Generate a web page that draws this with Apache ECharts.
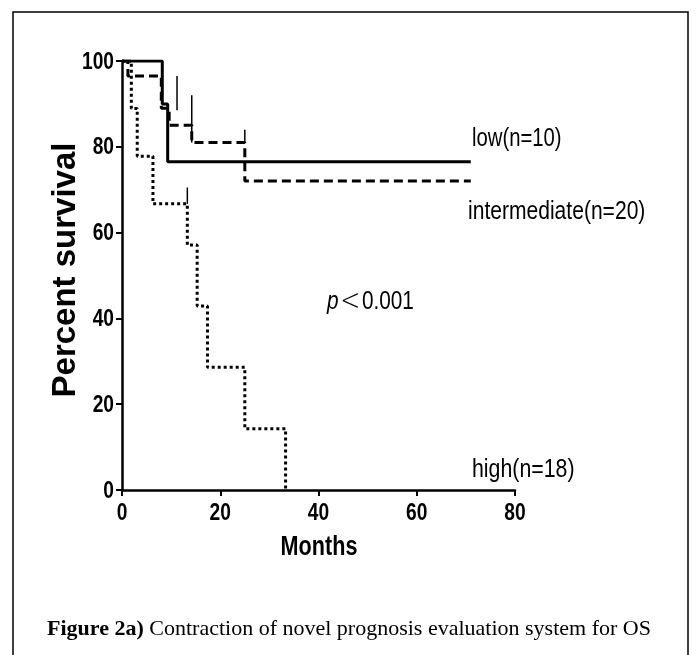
<!DOCTYPE html>
<html>
<head>
<meta charset="utf-8">
<script src="https://cdn.jsdelivr.net/npm/echarts@6/dist/echarts.min.js"></script>
<style>
  html, body { margin: 0; padding: 0; background: #fff; }
  #chart { width: 697px; height: 655px; }
</style>
</head>
<body>
<div id="chart"></div>
<script>
  // Kaplan-Meier steps: [months, percent survival]
  var lowSteps = [[0, 100], [8.2, 90], [9.3, 76.5], [71, 76.5]];
  var intermediateSteps = [[0, 100], [1.2, 96.5], [8, 89], [9.6, 85], [14.2, 81], [25, 72], [71, 72]];
  var highSteps = [[0, 100], [1.9, 88.9], [3.1, 77.8], [6.3, 66.7], [13.3, 57.1], [15.3, 42.9], [17.4, 28.6], [25, 14.3], [33.3, 0]];
  // censor ticks: [months, bottom, top]
  var intermediateCensors = [[11.2, 88.5, 96.5], [14.2, 81, 92], [25, 81, 84]];
  var highCensors = [[13.3, 66.7, 70.5]];
  var xTicks = [0, 20, 40, 60, 80];
  var yTicks = [0, 20, 40, 60, 80, 100];

  var sans = '"Liberation Sans", Arial, sans-serif';

  var chart = echarts.init(document.getElementById('chart'));

  function censorSeries(data) {
    return {
      type: 'custom',
      silent: true,
      data: data,
      renderItem: function (params, api) {
        var a = api.coord([api.value(0), api.value(1)]);
        var b = api.coord([api.value(0), api.value(2)]);
        return {
          type: 'line',
          shape: { x1: a[0], y1: a[1], x2: b[0], y2: b[1] },
          style: { stroke: '#000', lineWidth: 1.5 }
        };
      }
    };
  }

  // narrow text drawn by squeezing a normal sans face (no narrow font installed)
  function narrowText(txt, x, y, opts) {
    opts = opts || {};
    return {
      type: 'text', x: x, y: y,
      scaleX: opts.sx || 0.78,
      style: {
        text: txt,
        fontFamily: sans,
        fontWeight: opts.bold ? 'bold' : 'normal',
        fontSize: opts.size || 26,
        fill: '#000',
        align: opts.align || 'left',
        verticalAlign: opts.va || 'middle',
        rich: opts.rich
      }
    };
  }

  var graphics = [
    {
      type: 'rect',
      shape: { x: 13, y: 12, width: 675, height: 680 },
      style: { fill: 'none', stroke: '#000', lineWidth: 1.5 }
    },
    {
      type: 'text',
      x: 66, y: 270,
      rotation: Math.PI / 2,
      style: {
        text: 'Percent survival',
        fontFamily: sans,
        fontWeight: 'bold', fontSize: 33, fill: '#000',
        align: 'center', verticalAlign: 'middle'
      }
    },
    narrowText('Months', 319, 548, { bold: true, size: 27, align: 'center', sx: 0.8 }),
    narrowText('low(n=10)', 472, 139),
    narrowText('intermediate(n=20)', 468, 212, { sx: 0.81 }),
    narrowText('high(n=18)', 472, 470, { sx: 0.82 }),
    narrowText('{p|p}{t|<}{n|0.001}', 327, 302, {
      sx: 0.8,
      rich: {
        p: { fontFamily: sans, fontStyle: 'italic', fontSize: 26, fill: '#000' },
        t: { fontFamily: '"DejaVu Sans", sans-serif', fontWeight: 'lighter', fontSize: 30, fill: '#000', padding: [0, 2, 0, 2] },
        n: { fontFamily: sans, fontSize: 26, fill: '#000' }
      }
    }),
    {
      type: 'text', x: 349, y: 629,
      style: {
        text: '{b|Figure 2a)} Contraction of novel prognosis evaluation system for OS',
        align: 'center', verticalAlign: 'middle',
        fontFamily: '"Liberation Serif", serif', fontSize: 22, fill: '#000',
        rich: {
          b: { fontFamily: '"Liberation Serif", serif', fontWeight: 'bold', fontSize: 22, fill: '#000' }
        }
      }
    }
  ];

  chart.setOption({
    animation: false,
    grid: { left: 122, right: 182, top: 61, bottom: 165 },
    xAxis: {
      type: 'value',
      min: xTicks[0],
      max: xTicks[xTicks.length - 1],
      interval: 20,
      axisLine: { lineStyle: { color: '#000', width: 2.5 } },
      axisTick: { inside: false, length: 6, lineStyle: { color: '#000', width: 2 } },
      axisLabel: { show: false },
      splitLine: { show: false }
    },
    yAxis: {
      type: 'value',
      min: yTicks[0],
      max: yTicks[yTicks.length - 1],
      interval: 20,
      axisLine: { show: true, lineStyle: { color: '#000', width: 2.5 } },
      axisTick: { show: true, inside: false, length: 6, lineStyle: { color: '#000', width: 2 } },
      axisLabel: { show: false },
      splitLine: { show: false }
    },
    series: [
      {
        name: 'low',
        type: 'line',
        step: 'end',
        symbol: 'none',
        data: lowSteps,
        lineStyle: { color: '#000', width: 3, type: 'solid' }
      },
      {
        name: 'intermediate',
        type: 'line',
        step: 'end',
        symbol: 'none',
        data: intermediateSteps,
        lineStyle: { color: '#000', width: 3, type: [9, 5] }
      },
      {
        name: 'high',
        type: 'line',
        step: 'end',
        symbol: 'none',
        data: highSteps,
        lineStyle: { color: '#000', width: 3, type: [3, 3] }
      },
      censorSeries(intermediateCensors),
      censorSeries(highCensors)
    ]
  });

  // tick labels in a squeezed bold face, placed through the axis scales
  xTicks.forEach(function (v) {
    var px = chart.convertToPixel({ xAxisIndex: 0 }, v);
    var py = chart.convertToPixel({ yAxisIndex: 0 }, 0);
    graphics.push(narrowText(String(v), px, py + 11, { bold: true, size: 24, sx: 0.8, align: 'center', va: 'top' }));
  });
  yTicks.forEach(function (v) {
    var px = chart.convertToPixel({ xAxisIndex: 0 }, 0);
    var py = chart.convertToPixel({ yAxisIndex: 0 }, v);
    graphics.push(narrowText(String(v), px - 8, py + 1, { bold: true, size: 24, sx: 0.8, align: 'right' }));
  });

  chart.setOption({ graphic: graphics });
</script>
</body>
</html>
